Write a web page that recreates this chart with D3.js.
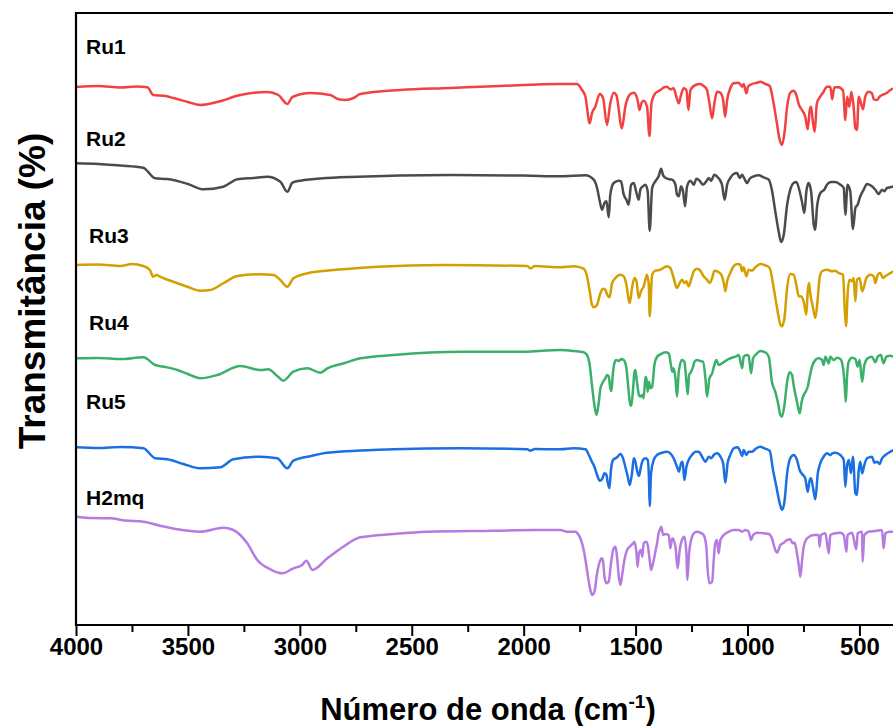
<!DOCTYPE html>
<html><head><meta charset="utf-8">
<script src="https://cdn.jsdelivr.net/npm/d3@7"></script>
<style>body{margin:0;background:#fff}svg{display:block}</style>
</head><body><svg id="c" width="893" height="726"></svg>
<script>
const seriesNames = ["Ru1","Ru2","Ru3","Ru4","Ru5","H2mq"];
const ru1 = [[4000,538],[3900,539],[3800,537.5],[3730,538.5],[3681,537.7],[3655,530],[3600,529],[3565,527],[3500,523],[3445,520],[3369,523],[3266,530],[3145,533],[3096,530],[3056,521],[3033,528],[2953,532],[2864,530],[2830,526],[2797,525],[2760,527],[2730,531],[2551,535],[2328,537],[2104,539],[1836,541],
[1762,541],[1739,535],[1724,528.3],[1705,501.7],[1695,511.7],[1680,518.3],[1660,531],[1645,526.7],[1628,500],[1613,521.7],[1598,532.3],[1586,530],[1561,496.7],[1546,518.3],[1523,531],[1508,532.3],[1491,525],[1483,515],[1474,521.7],[1464,524.3],[1449,518.3],[1438,489],[1429,521.7],[1412,531.7],[1389,535],[1374,537.7],[1360,538.3],[1345,535.7],[1330,536.7],[1318,528.3],[1307,521.7],[1297,530],[1285,536.7],[1273,535],[1264,515],[1255,535],[1233,540],[1211,541],[1196,539],[1181,535],[1170,521.7],[1158,506.7],[1148,521.7],[1136,533.3],[1121,532.3],[1109,525],[1100,508.3],[1091,525],[1077,536.7],[1062,541.7],[1039,542.3],[1024,538.3],[1017,541],[1005,531.7],[998,538.3],[980,541],[957,542.3],[943,543.3],[920,541],[901,539],[886,525],[871,505],[856,485],[846,480],[835,491.7],[823,518.3],[809,532.3],[794,534.3],[782,530],[770,520],[757,515],[742,508.3],[731,495.7],[722,515],[716,518.3],[709,505],[700,493.3],[690,521.7],[675,528.3],[660,533.3],[645,538.3],[630,538.3],[622,525.7],[612,537.7],[593,537.7],[573,534.3],[563,505],[555,528.3],[545,518.3],[536,533.3],[526,518.3],[518,496.7],[511,495],[503,528.3],[493,521.7],[484,515.7],[474,528.3],[459,533.3],[444,531.7],[436,525.7],[421,525],[410,528.3],[399,530],[380,531.7],[362,535],[348,536.7]];
const ru2 = [[4000,461.7],[3900,461],[3800,459.5],[3700,457.3],[3646,446.7],[3592,446],[3500,441],[3431,435.7],[3342,438.3],[3279,445.7],[3208,447],[3145,448.3],[3087,443.3],[3056,433.3],[3033,442.3],[2998,444.3],[2775,448],[2328,450],[2000,449.5],
[1836,448.7],[1724,449.7],[1687,445.3],[1672,437],[1660,423.7],[1650,415.3],[1639,422],[1630,423.7],[1620,407.7],[1613,430.3],[1598,442],[1575,444.3],[1565,443.7],[1553,430.3],[1541,425.3],[1531,420.3],[1520,440.3],[1508,442],[1496,432],[1486,425.3],[1479,435.3],[1467,438.7],[1456,440.3],[1446,433.7],[1437,394.3],[1426,437],[1412,443.7],[1397,448.7],[1386,456.3],[1377,449.7],[1360,446.3],[1337,445.3],[1322,440.3],[1315,430.3],[1307,428.7],[1297,438.7],[1288,433.7],[1279,418.7],[1270,438.7],[1255,444.3],[1240,440.3],[1228,446.3],[1214,444.3],[1199,440.3],[1184,443.7],[1173,447],[1163,444.3],[1148,450.3],[1133,447.7],[1124,445.3],[1114,440.3],[1102,425.3],[1091,440.3],[1077,447],[1062,451],[1047,452],[1035,447],[1024,450.3],[1014,446.3],[1002,442],[990,446.3],[972,448.7],[950,449.7],[928,447.7],[905,445.3],[890,433.7],[876,413.7],[861,393.7],[850,383],[838,390.3],[823,420.3],[809,435.3],[794,442],[782,443],[767,433.7],[757,423.7],[746,412],[737,433.7],[727,442],[716,433.7],[704,400.3],[697,395.3],[690,417],[678,430.3],[667,433.7],[657,435.3],[645,440.3],[627,443],[608,443],[585,440.3],[570,437],[563,410.3],[553,440.3],[541,433.7],[529,396],[518,417],[508,420.3],[496,428.7],[481,435.3],[466,441],[444,438.7],[429,435.3],[414,431],[399,435.3],[389,433.7],[377,437],[362,437.7],[348,438.7]];
const ru3 = [[4000,360],[3900,360.5],[3800,359],[3750,361],[3700,359],[3670,355],[3655,348.3],[3640,350],[3624,348.3],[3600,346],[3565,343.3],[3500,338],[3445,334.3],[3400,335],[3340,342],[3279,349],[3177,350.7],[3118,350],[3087,345],[3056,338.3],[3029,346.7],[2967,351.7],[2806,355.7],[2654,358.3],[2359,360],[1984,359],[1970,356.7],[1950,359],
[1836,357.7],[1776,358.7],[1732,356.3],[1717,348.7],[1705,333.7],[1695,320.3],[1687,317.7],[1672,320.3],[1657,332],[1645,336.3],[1635,335.3],[1628,331],[1616,327.7],[1605,342],[1590,347],[1568,350.3],[1553,348.7],[1541,340.3],[1531,325.3],[1526,322],[1516,337],[1505,347],[1496,343.7],[1486,327],[1476,333.7],[1464,338.7],[1456,345.3],[1449,350.3],[1441,340.3],[1437,308.7],[1426,350.3],[1412,354.3],[1389,355.3],[1360,358.7],[1345,357],[1330,347],[1315,337],[1303,342],[1293,345.3],[1282,342],[1273,343.7],[1263,338.7],[1252,345.3],[1240,353.7],[1225,356.3],[1211,354.3],[1196,348.7],[1181,345.3],[1169,342],[1158,347],[1148,354.3],[1136,353.7],[1124,352],[1114,348.7],[1106,342],[1099,333.7],[1091,343.7],[1077,352],[1062,358.7],[1047,361],[1032,360.3],[1024,353.7],[1017,357.7],[1005,348.7],[995,355.3],[980,354.3],[965,357.7],[943,361],[920,359.7],[901,357],[883,337],[868,317],[853,300.3],[846,298.7],[835,307],[823,337],[809,351],[794,350.3],[782,340.3],[771,328.7],[764,328.7],[749,323.7],[737,310.3],[731,333.7],[725,342],[719,330.3],[707,317],[697,307],[686,327],[678,347],[667,353.7],[645,355.3],[622,353.7],[608,354.3],[593,352],[573,350.3],[566,317],[560,298.7],[552,333.7],[545,345.3],[533,343.7],[526,347],[518,323.7],[511,345.3],[499,347],[488,333.7],[481,337],[469,347],[451,350.3],[436,348.7],[429,342],[418,350.3],[407,352],[395,347],[384,348.7],[369,351],[348,353.7]];
const ru4 = [[4000,266.7],[3900,267],[3800,266],[3699,267.7],[3646,260],[3600,258],[3547,255],[3500,251],[3445,246.7],[3369,250],[3266,259],[3177,255],[3141,255.7],[3101,249],[3074,244.3],[3029,253.3],[2967,256.7],[2908,252.3],[2877,256.7],[2800,262],[2730,266.7],[2582,270],[2283,273.3],[1984,273.3],[1900,274.5],
[1836,275],[1776,274],[1732,272.7],[1717,270],[1705,260],[1695,240],[1684,220],[1675,210],[1665,221.7],[1657,236.7],[1645,243.3],[1635,246.7],[1628,250],[1620,248.3],[1613,236.7],[1608,234],[1602,250],[1595,261.7],[1586,265],[1575,264],[1565,266],[1553,265],[1541,256.7],[1531,233.3],[1523,220],[1519,219.3],[1511,236.7],[1505,253.3],[1501,255],[1494,243.3],[1485,230],[1479,228.3],[1470,230],[1464,226.7],[1456,248.3],[1452,246.7],[1446,233.3],[1440,243.3],[1434,236.7],[1426,238.3],[1416,260],[1404,268.3],[1389,270.7],[1367,272.7],[1352,271.7],[1342,260],[1336,253.3],[1330,256.7],[1322,246.7],[1315,228.3],[1307,253.3],[1293,265],[1282,263.3],[1273,243.3],[1267,230.7],[1261,250],[1252,253.3],[1243,258.3],[1237,263.3],[1225,265],[1211,264],[1199,263.3],[1188,246.7],[1181,228.3],[1170,246.7],[1158,251.7],[1148,260],[1139,265],[1129,260],[1114,261.7],[1099,264],[1084,266],[1069,267.3],[1054,268.3],[1039,270],[1024,256.7],[1017,268.3],[1002,270],[995,269.3],[984,251.7],[975,266.7],[957,271.7],[943,274],[920,272.7],[905,268.3],[891,243.3],[876,233.3],[865,223.3],[853,210],[846,208.3],[835,220],[823,243.3],[812,252.7],[801,250],[794,240],[779,223.3],[767,211.7],[758,223.3],[749,230],[740,233.3],[731,238.3],[722,248.3],[712,258.3],[697,265],[682,266.7],[667,265],[660,260],[652,268.3],[637,261.7],[630,268.3],[615,265],[600,267.3],[585,266],[573,256.7],[566,240],[561,223.3],[555,250],[548,263.3],[533,267.3],[518,266],[508,258.3],[499,265],[488,243.3],[478,260],[463,266.7],[444,268.3],[429,262.7],[418,268.3],[404,270],[392,261.7],[380,268.3],[362,269.3],[348,268.3]];
const ru5 = [[4000,177.7],[3900,177],[3800,178],[3699,176.7],[3646,166.7],[3592,165.7],[3520,161],[3445,156.7],[3355,157.7],[3297,165.7],[3177,168.3],[3101,166.7],[3056,156.7],[3029,164.3],[2950,169],[2877,172.3],[2582,175.7],[2283,176.7],[1984,175.7],[1971,174.3],[1950,176],
[1836,175.7],[1776,176.7],[1724,175.7],[1709,170],[1695,163.3],[1684,158.3],[1672,150],[1660,144.3],[1650,145.7],[1639,151.7],[1630,150],[1625,143.3],[1617,136.7],[1610,155],[1601,165],[1590,166.7],[1580,168.3],[1568,171],[1556,166.7],[1546,158.3],[1535,148.3],[1526,140],[1516,151.7],[1508,166.7],[1501,163.3],[1494,155],[1485,149],[1476,158.3],[1467,165],[1456,166.7],[1446,165],[1440,145],[1437,119],[1431,151.7],[1419,165],[1404,170],[1382,172.3],[1360,173.3],[1345,171.7],[1330,166.7],[1315,158.3],[1306,153.3],[1297,161.7],[1290,163.3],[1282,145],[1273,158.3],[1263,165],[1248,170],[1233,173.3],[1218,173.3],[1203,168.3],[1188,163.3],[1173,168.3],[1163,166.7],[1151,170],[1136,171.7],[1121,168.3],[1109,161.7],[1099,142.3],[1089,161.7],[1077,170],[1062,176.7],[1044,177.7],[1032,173.3],[1024,169],[1017,175],[1005,170],[995,173.3],[980,173.3],[961,176.7],[943,178.3],[925,176.7],[901,174.3],[886,155],[871,138.3],[856,121.7],[846,115],[835,123.3],[823,151.7],[809,166.7],[794,170],[779,165],[767,155],[752,150],[742,146.7],[731,133.3],[722,145],[716,146.7],[707,136.7],[697,125.7],[686,151.7],[675,161.7],[660,168.3],[645,171.7],[630,170],[622,171.7],[608,172.3],[585,170],[570,165],[563,138.3],[555,160],[547,165],[538,151.7],[529,168.3],[518,131.7],[511,130],[503,155],[496,163.3],[488,151.7],[478,160],[466,166.7],[444,168.3],[433,162.3],[421,163.3],[410,161],[399,166.7],[384,170],[362,173.3],[348,175]];
const h2mq = [[4000,108.3],[3930,107],[3847,106.7],[3780,104.5],[3699,103.3],[3620,99],[3547,95.7],[3445,93.3],[3342,97.3],[3297,95],[3235,81.7],[3190,65],[3132,55.7],[3078,51.7],[3029,56.7],[2990,60],[2971,64.3],[2944,55],[2877,66.7],[2806,78.3],[2730,87.7],[2582,91],[2430,93.3],[2135,94.3],[1950,95],
[1836,95],[1806,93.3],[1769,93.3],[1754,90],[1739,81.7],[1729,71.7],[1717,55],[1705,38.3],[1695,30],[1684,33.3],[1672,51.7],[1660,63.3],[1651,66.7],[1645,63.3],[1639,48.3],[1630,41.7],[1620,43.3],[1610,61.7],[1598,76.7],[1590,78.3],[1583,68.3],[1575,48.3],[1568,40],[1559,51.7],[1550,65],[1538,75],[1523,79],[1511,81.7],[1505,83.3],[1496,71.7],[1491,58.3],[1485,71.7],[1476,75],[1470,68.3],[1464,81.7],[1452,83.3],[1446,80],[1437,65],[1431,55],[1422,61.7],[1413,71.7],[1404,81.7],[1397,91.7],[1389,96.7],[1385,98.3],[1377,90],[1367,91],[1352,90],[1345,76.7],[1336,86.7],[1322,78.3],[1312,56.7],[1303,75],[1293,85],[1282,88.3],[1273,71.7],[1269,45],[1261,71.7],[1252,85],[1240,91.7],[1225,93.3],[1211,92.3],[1196,90],[1184,78.3],[1178,55],[1170,41.7],[1158,43.3],[1151,65],[1144,81.7],[1136,85],[1129,71.7],[1121,85],[1106,90],[1084,93.3],[1062,95],[1039,95],[1024,93.3],[1010,95],[995,93.3],[984,85],[975,90],[957,92.3],[928,91.7],[905,91],[891,86.7],[876,75],[868,72.3],[853,80],[838,82.3],[823,85],[809,85.7],[798,81.7],[789,82.3],[779,71.7],[770,58.3],[764,48.3],[756,65],[749,78.3],[734,86.7],[704,90],[682,90],[678,78.3],[672,90],[652,91.7],[637,71.7],[630,90],[608,91.7],[585,92.3],[570,90],[558,73.3],[553,90],[533,92.3],[514,75.7],[508,91.7],[488,93.3],[486,63.3],[478,90],[459,93.3],[429,94],[399,95],[392,76.7],[384,91.7],[365,93.3],[348,93.3]];
const seriesData = [ru1, ru2, ru3, ru4, ru5, h2mq];
const labelLevels = [571, 479, 382, 295, 216, 120];
const labelWavenumbers = [3955, 3955, 3942, 3942, 3955, 3955];
const majorTicks = [4000, 3500, 3000, 2500, 2000, 1500, 1000, 500];
const minorTicks = [3750, 3250, 2750, 2250, 1750, 1250, 750];

const colors = ["#f24141", "#4b4b4b", "#d49f00", "#3bb06b", "#1b6fe0", "#b57be0"];

const svg = d3.select("#c");
const L = 76, T = 13, B = 625, R = 905;
const x = d3.scaleLinear().domain([4000, 350]).range([L, 893]);
const y = d3.scaleLinear().domain([0, 612]).range([B, T]);

svg.append("defs").append("clipPath").attr("id", "clip")
  .append("rect").attr("x", L).attr("y", T).attr("width", R - L).attr("height", B - T);

const line = d3.line().x(d => x(d[0])).y(d => y(d[1])).curve(d3.curveMonotoneX);
const g = svg.append("g").attr("clip-path", "url(#clip)");
seriesData.forEach((s, i) => {
  g.append("path").attr("d", line(s)).attr("fill", "none")
    .attr("stroke", colors[i]).attr("stroke-width", 2.5)
    .attr("stroke-linejoin", "round").attr("stroke-linecap", "round");
});

seriesNames.forEach((n, i) => {
  svg.append("text").attr("x", x(labelWavenumbers[i])).attr("y", y(labelLevels[i]))
    .attr("font-family", "Arial, 'Liberation Sans', sans-serif").attr("font-weight", "bold")
    .attr("font-size", 21).attr("fill", "#000").text(n);
});

// axes
const ax = svg.append("g").attr("transform", `translate(0,${B})`)
  .call(d3.axisBottom(x).tickValues(majorTicks).tickSize(11).tickPadding(2).tickFormat(d3.format("d")));
ax.select(".domain").remove();
ax.selectAll("line").attr("stroke", "#000").attr("stroke-width", 2);
ax.selectAll("text").attr("font-family", "Arial, 'Liberation Sans', sans-serif")
  .attr("font-weight", "bold").attr("font-size", 24).attr("fill", "#000");
const mx = svg.append("g").attr("transform", `translate(0,${B})`)
  .call(d3.axisBottom(x).tickValues(minorTicks).tickSize(7).tickFormat(""));
mx.select(".domain").remove();
mx.selectAll("line").attr("stroke", "#000").attr("stroke-width", 2);

// frame
svg.append("path").attr("d", `M${R},${T}H${L}V${B}H${R}`).attr("fill", "none")
  .attr("stroke", "#000").attr("stroke-width", 2.2);

// titles
const xt = svg.append("text").attr("x", 488).attr("y", 720).attr("text-anchor", "middle")
  .attr("font-family", "Arial, 'Liberation Sans', sans-serif").attr("font-weight", "bold")
  .attr("font-size", 31).attr("fill", "#000");
xt.append("tspan").text("Número de onda (cm");
xt.append("tspan").attr("font-size", 19).attr("dy", -12).text("-1");
xt.append("tspan").attr("dy", 12).text(")");

svg.append("text").attr("transform", "translate(45,291) rotate(-90)").attr("text-anchor", "middle")
  .attr("font-family", "Arial, 'Liberation Sans', sans-serif").attr("font-weight", "bold")
  .attr("font-size", 37).attr("fill", "#000").text("Transmitância (%)");
</script></body></html>
